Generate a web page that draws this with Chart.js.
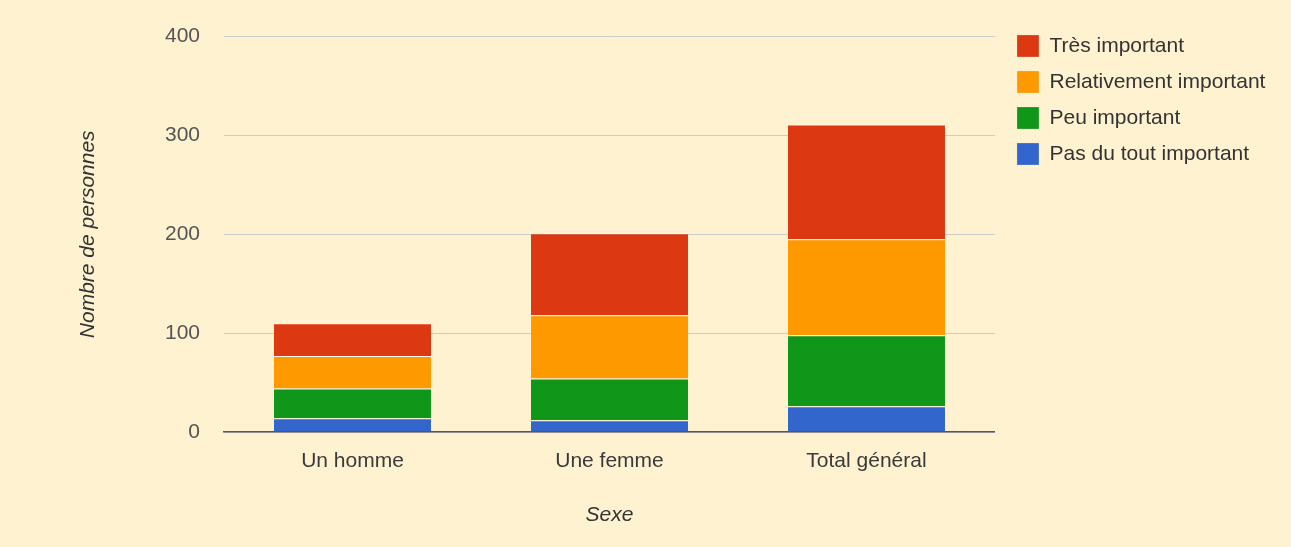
<!DOCTYPE html>
<html>
<head>
<meta charset="utf-8">
<script src="https://cdn.jsdelivr.net/npm/chart.js@4/dist/chart.umd.min.js"></script>
<style>
  html, body { margin: 0; padding: 0; background: #fef2d0; }
  #wrap { position: relative; width: 1291px; height: 547px; }
</style>
</head>
<body>
<div id="wrap"><canvas id="chart"></canvas></div>
<script>
// data
var categories = ["Un homme", "Une femme", "Total général"];
var pasDuTout = [14, 12, 26];
var peu = [30, 42, 72];
var relativement = [33, 64, 97];
var tres = [33, 83, 116];
var yMin = 0, yMax = 400, yStep = 100;

var fontFam = "Arial, 'Liberation Sans', sans-serif";
var bg = "#fef2d0";
var legendGap = 8;

// fill the canvas background
var bgPlugin = {
    id: 'bg',
    beforeDraw: function(chart) {
        var ctx = chart.ctx;
        ctx.save();
        ctx.fillStyle = bg;
        ctx.fillRect(0, 0, chart.width, chart.height);
        ctx.restore();
    }
};

// leave a bit more room between plot and legend
var gapPlugin = {
    id: 'gap',
    afterInit: function(chart) {
        var lg = chart.legend;
        var fit = lg.fit;
        lg.fit = function() {
            fit.call(this);
            this.width += legendGap;
        };
    },
    afterLayout: function(chart) {
        chart.legend.left += legendGap;
    }
};

function ds(label, data, color) {
    return {
        label: label,
        data: data,
        backgroundColor: color,
        borderColor: "rgba(255,250,235,0.85)",
        borderWidth: {top: 1, right: 0, bottom: 0, left: 0},
        barPercentage: 0.611,
        categoryPercentage: 1
    };
}

const ctx = document.getElementById('chart');
var myChart = new Chart(ctx, {
    type: 'bar',
    data: {
        labels: categories,
        datasets: [
            ds("Pas du tout important", pasDuTout, "#3366cc"),
            ds("Peu important", peu, "#109618"),
            ds("Relativement important", relativement, "#ff9900"),
            ds("Très important", tres, "#dc3912")
        ]
    },
    options: {
        responsive: true,
        maintainAspectRatio: false,
        animation: false,
        layout: { padding: { top: 21, right: 15.6, bottom: 0, left: 0 } },
        scales: {
            x: {
                stacked: true,
                grid: { display: false },
                border: { display: true, color: "#555", width: 1.5 },
                ticks: { color: "#3a3a3a", padding: 9, font: { family: fontFam, size: 21 } },
                title: {
                    display: true, text: "Sexe", color: "#333",
                    font: { family: fontFam, size: 21, style: 'italic' },
                    padding: { top: 0, bottom: 19.4 }
                },
                afterFit: function(s) { s.height = 115; }
            },
            y: {
                stacked: true,
                min: yMin,
                max: yMax,
                grid: { color: "#cccccc", lineWidth: 1, drawTicks: false },
                border: { display: false },
                ticks: { stepSize: yStep, color: "#555", padding: 24, font: { family: fontFam, size: 21 } },
                title: {
                    display: true, text: "Nombre de personnes", color: "#333",
                    font: { family: fontFam, size: 21, style: 'italic' },
                    padding: { top: 75.4, bottom: 0 }
                },
                afterFit: function(s) { s.width = 224; }
            }
        },
        plugins: {
            title: {
                display: true,
                text: '',
                fullSize: false,
                font: { size: 10, lineHeight: 1 },
                padding: { top: 3, bottom: 0 }
            },
            legend: {
                position: 'right',
                align: 'start',
                reverse: true,
                labels: {
                    boxWidth: 22,
                    boxHeight: 22,
                    padding: 14,
                    color: "#333",
                    font: { family: fontFam, size: 21 }
                }
            },
            tooltip: { enabled: false }
        }
    },
    plugins: [bgPlugin, gapPlugin]
});
</script>
</body>
</html>
